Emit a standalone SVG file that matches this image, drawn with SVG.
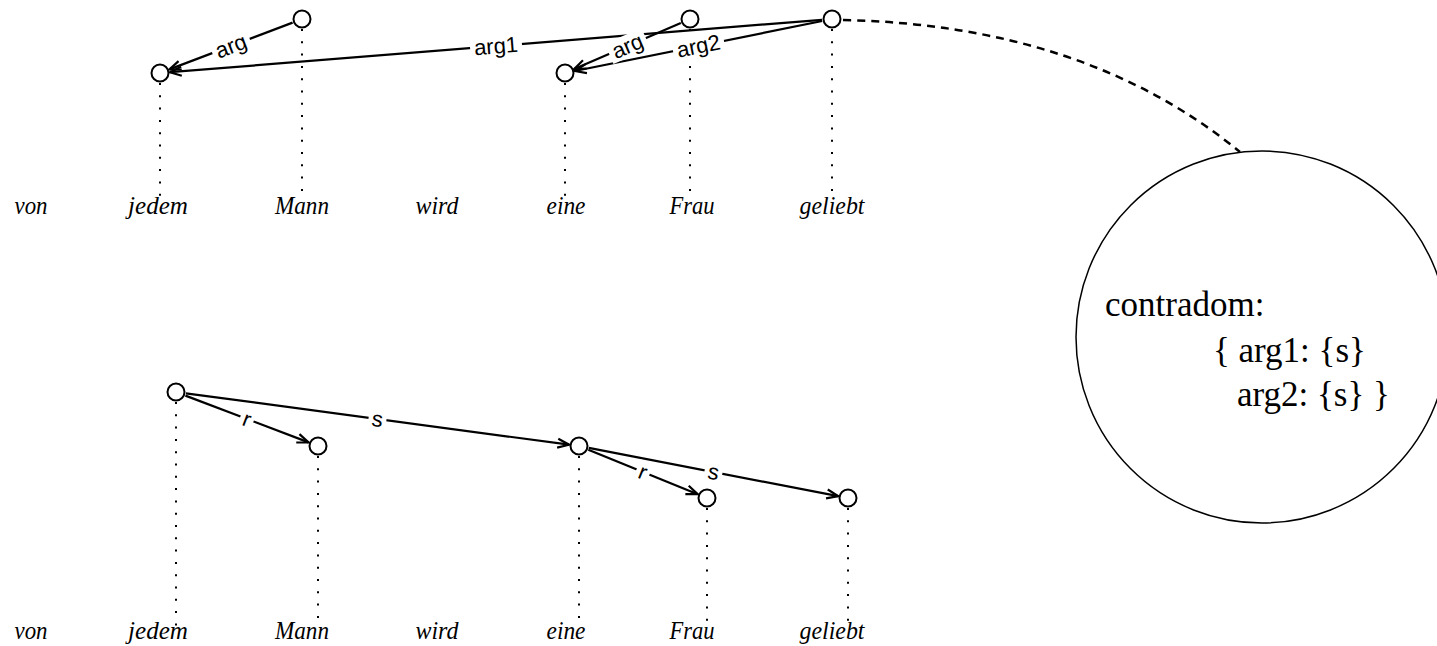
<svg xmlns="http://www.w3.org/2000/svg" width="1437" height="646" viewBox="0 0 1437 646">
<style>
.node{fill:#fff;stroke:#000;stroke-width:2}
.edge{fill:none;stroke:#000;stroke-width:2.2}
.dot{fill:none;stroke:#000;stroke-width:2;stroke-dasharray:2 10.3}
.lbl{font-family:"Liberation Sans",Arial,sans-serif;font-size:22px;fill:#000;text-anchor:middle;dominant-baseline:central}
.bg{fill:#fff}
.word{font-family:"Liberation Serif","Times New Roman",serif;font-style:italic;font-size:25px;fill:#000;text-anchor:middle}
.big{font-family:"Liberation Serif","Times New Roman",serif;font-size:35px;fill:#000}
</style>
<defs>
<marker id="vee" markerUnits="userSpaceOnUse" markerWidth="16" markerHeight="12" refX="12" refY="5" orient="auto" overflow="visible">
<path d="M0.5,0.5 L12,5 L0.5,9.5" fill="none" stroke="#000" stroke-width="2.2" stroke-linejoin="miter"/>
</marker>
</defs>
<rect width="1437" height="646" fill="#fff"/>

<g id="guides">
<line class="dot" x1="160" y1="83" x2="160" y2="200"/>
<line class="dot" x1="302" y1="29" x2="302" y2="200"/>
<line class="dot" x1="565" y1="83" x2="565" y2="200"/>
<line class="dot" x1="690" y1="29" x2="690" y2="200"/>
<line class="dot" x1="832" y1="29" x2="832" y2="200"/>
<line class="dot" x1="176" y1="402" x2="176" y2="626"/>
<line class="dot" x1="318" y1="456" x2="318" y2="626"/>
<line class="dot" x1="579" y1="456" x2="579" y2="626"/>
<line class="dot" x1="707" y1="508" x2="707" y2="626"/>
<line class="dot" x1="848" y1="508" x2="848" y2="626"/>
</g>

<g id="connectors">
<path class="edge" d="M822,19.8 L170,72.2" marker-end="url(#vee)"/>
<path class="edge" d="M292.6,22.6 L169.4,69.4" marker-end="url(#vee)"/>
<path class="edge" d="M680.8,23 L574.2,69" marker-end="url(#vee)"/>
<path class="edge" d="M822.2,21 L574.8,71" marker-end="url(#vee)"/>
<path d="M843,20 Q1085,25 1240,152" fill="none" stroke="#000" stroke-width="2.5" stroke-dasharray="8 6"/>
<path class="edge" d="M185.4,395.6 L308.6,442.4" marker-end="url(#vee)"/>
<path class="edge" d="M185.9,393.3 L569.1,444.7" marker-end="url(#vee)"/>
<path class="edge" d="M588.3,449.8 L697.7,494.2" marker-end="url(#vee)"/>
<path class="edge" d="M588.8,447.9 L838.2,496.1" marker-end="url(#vee)"/>
<g transform="translate(496,46) rotate(-4.6)"><rect class="bg" x="-26" y="-11" width="52" height="22"/><text class="lbl" x="0" y="0">arg1</text></g>
<g transform="translate(231,46) rotate(-20.8)"><rect class="bg" x="-20" y="-11" width="40" height="22"/><text class="lbl" x="0" y="0">arg</text></g>
<g transform="translate(627.5,46) rotate(-23.4)"><rect class="bg" x="-20" y="-11" width="40" height="22"/><text class="lbl" x="0" y="0">arg</text></g>
<g transform="translate(698.5,46) rotate(-11.4)"><rect class="bg" x="-26" y="-11" width="52" height="22"/><text class="lbl" x="0" y="0">arg2</text></g>
<g transform="translate(247,419) rotate(20.8)"><rect class="bg" x="-7" y="-11" width="14" height="22"/><text class="lbl" x="0" y="0">r</text></g>
<g transform="translate(377.5,419) rotate(7.6)"><rect class="bg" x="-9" y="-11" width="18" height="22"/><text class="lbl" x="0" y="0">s</text></g>
<g transform="translate(643,472) rotate(22.1)"><rect class="bg" x="-7" y="-11" width="14" height="22"/><text class="lbl" x="0" y="0">r</text></g>
<g transform="translate(713.5,472) rotate(10.9)"><rect class="bg" x="-9" y="-11" width="18" height="22"/><text class="lbl" x="0" y="0">s</text></g>
</g>

<g id="n_jedem_top"><circle class="node" cx="160" cy="73" r="8.5"/></g>
<g id="n_mann_top"><circle class="node" cx="302" cy="19" r="8.5"/></g>
<g id="n_eine_top"><circle class="node" cx="565" cy="73" r="8.5"/></g>
<g id="n_frau_top"><circle class="node" cx="690" cy="19" r="8.5"/></g>
<g id="n_geliebt_top"><circle class="node" cx="832" cy="19" r="8.5"/></g>
<g id="n_jedem_bot"><circle class="node" cx="176" cy="392" r="8.5"/></g>
<g id="n_mann_bot"><circle class="node" cx="318" cy="446" r="8.5"/></g>
<g id="n_eine_bot"><circle class="node" cx="579" cy="446" r="8.5"/></g>
<g id="n_frau_bot"><circle class="node" cx="707" cy="498" r="8.5"/></g>
<g id="n_geliebt_bot"><circle class="node" cx="848" cy="498" r="8.5"/></g>

<g id="words_top">
<text class="word" x="31" y="214" textLength="33" lengthAdjust="spacingAndGlyphs">von</text>
<text class="word" x="158" y="214" textLength="60" lengthAdjust="spacingAndGlyphs">jedem</text>
<text class="word" x="302" y="214" textLength="54" lengthAdjust="spacingAndGlyphs">Mann</text>
<text class="word" x="437" y="214" textLength="43" lengthAdjust="spacingAndGlyphs">wird</text>
<text class="word" x="566" y="214" textLength="39" lengthAdjust="spacingAndGlyphs">eine</text>
<text class="word" x="692" y="214" textLength="45" lengthAdjust="spacingAndGlyphs">Frau</text>
<text class="word" x="832" y="214" textLength="65" lengthAdjust="spacingAndGlyphs">geliebt</text>
</g>
<g id="words_bottom">
<text class="word" x="31" y="639" textLength="33" lengthAdjust="spacingAndGlyphs">von</text>
<text class="word" x="158" y="639" textLength="60" lengthAdjust="spacingAndGlyphs">jedem</text>
<text class="word" x="302" y="639" textLength="54" lengthAdjust="spacingAndGlyphs">Mann</text>
<text class="word" x="437" y="639" textLength="43" lengthAdjust="spacingAndGlyphs">wird</text>
<text class="word" x="566" y="639" textLength="39" lengthAdjust="spacingAndGlyphs">eine</text>
<text class="word" x="692" y="639" textLength="45" lengthAdjust="spacingAndGlyphs">Frau</text>
<text class="word" x="832" y="639" textLength="65" lengthAdjust="spacingAndGlyphs">geliebt</text>
</g>

<g id="contradom">
<circle cx="1262" cy="337" r="186" fill="none" stroke="#000" stroke-width="1.5"/>
<text class="big" x="1105" y="316">contradom:</text>
<text class="big" x="1213" y="362">{ arg1: {s}</text>
<text class="big" x="1237" y="406">arg2: {s} }</text>
</g>
</svg>
